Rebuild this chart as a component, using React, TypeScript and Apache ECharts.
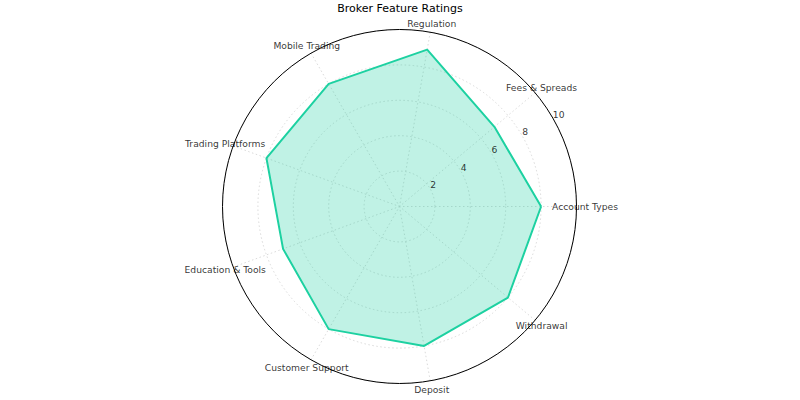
import React, { useEffect, useRef } from "react";
import * as echarts from "echarts";

const categories = [
  "Account Types",
  "Fees & Spreads",
  "Regulation",
  "Mobile Trading",
  "Trading Platforms",
  "Education & Tools",
  "Customer Support",
  "Deposit",
  "Withdrawal",
];
const ratings = [8, 7, 9, 8, 8, 7, 8, 8, 8];
const radialTicks = [2, 4, 6, 8, 10];

const R_MAX = 10;
const LABEL_R = 10.48; // category labels sit just outside the outer circle
const RLABEL_ANGLE = 30; // radial tick labels angle
const FONT = "DejaVu Sans";
const LINE_COLOR = "#1dd1a1";

export default function App() {
  const ref = useRef<HTMLDivElement>(null);

  useEffect(() => {
    if (!ref.current) return;
    const chart = echarts.init(ref.current, undefined, { renderer: "svg" });
    const step = 360 / categories.length;
    const lineData = ratings.map((v, i) => [v, i * step]);
    lineData.push([ratings[0], 360]);

    chart.setOption({
      animation: false,
      title: {
        text: "Broker Feature Ratings",
        left: "center",
        top: 0,
        padding: [2, 5, 0, 5],
        textStyle: { fontFamily: FONT, fontSize: 11, fontWeight: "normal", color: "#000", lineHeight: 13 },
      },
      polar: { center: [399.5, 206.5], radius: 177 },
      angleAxis: {
        type: "value",
        min: 0,
        max: 360,
        interval: step,
        startAngle: 0,
        clockwise: false,
        axisLine: { show: true, lineStyle: { color: "#000", width: 1 } },
        axisTick: { show: false },
        axisLabel: { show: false },
        splitLine: { show: true, lineStyle: { color: "#d0d0d0", type: [1.5, 2.5], width: 0.8 } },
      },
      radiusAxis: {
        type: "value",
        min: 0,
        max: R_MAX,
        interval: 2,
        axisLine: { show: false },
        axisTick: { show: false },
        axisLabel: { show: false },
        splitLine: { show: true, lineStyle: { color: "#d0d0d0", type: [1.5, 2.5], width: 0.8 } },
      },
      series: [
        {
          type: "line",
          coordinateSystem: "polar",
          data: lineData,
          symbol: "none",
          clip: false,
          lineStyle: { color: LINE_COLOR, width: 2 },
          areaStyle: { color: LINE_COLOR, opacity: 0.28 },
          z: 3,
        },
        {
          type: "scatter",
          coordinateSystem: "polar",
          symbolSize: 0,
          clip: false,
          data: categories.map((c, i) => ({ name: c, value: [LABEL_R, i * step] })),
          label: {
            show: true,
            position: "inside",
            formatter: "{b}",
            fontFamily: FONT,
            fontSize: 9.2,
            color: "#000",
          },
          z: 5,
        },
        {
          type: "scatter",
          coordinateSystem: "polar",
          symbolSize: 0,
          clip: false,
          data: radialTicks.map((t) => [t, RLABEL_ANGLE]),
          label: {
            show: true,
            position: "right",
            distance: 0,
            offset: [0, -4],
            formatter: (p: any) => String(p.value[0]),
            fontFamily: FONT,
            fontSize: 9.2,
            color: "#000",
          },
          z: 5,
        },
      ],
    });
    return () => chart.dispose();
  }, []);

  return (
    <div
      ref={ref}
      style={{ position: "absolute", left: 0, top: 0, width: 800, height: 400, background: "#fff" }}
    />
  );
}
